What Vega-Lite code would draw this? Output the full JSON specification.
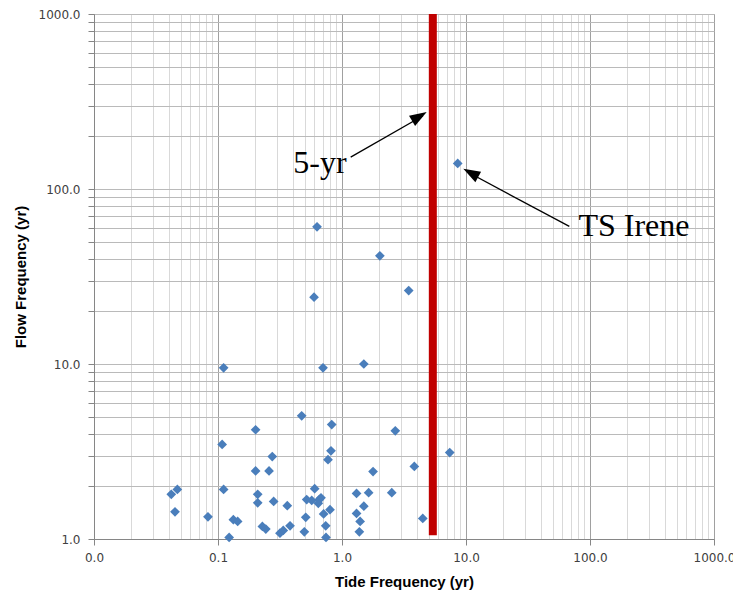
{
  "$schema": "https://vega.github.io/schema/vega-lite/v6.json",
  "width": 620,
  "height": 525,
  "autosize": "none",
  "padding": {"left": 94, "top": 14, "right": 19, "bottom": 55},
  "background": "white",
  "config": {
    "view": {"stroke": "#A6A6A6", "strokeWidth": 1},
    "axis": {"labelFont": "DejaVu Sans", "labelFontSize": 12, "labelColor": "#404040", "titleFont": "Liberation Sans", "titleFontSize": 15, "titleFontWeight": "bold", "titleColor": "#000000", "domainColor": "#868686", "tickColor": "#868686"}
  },
  "datasets": {
    "points": [
      {"x": 0.201, "y": 4.21}, {"x": 0.108, "y": 3.47}, {"x": 0.274, "y": 2.96}, {"x": 0.201, "y": 2.45},
      {"x": 0.258, "y": 2.45}, {"x": 0.047, "y": 1.92}, {"x": 0.042, "y": 1.80}, {"x": 0.111, "y": 1.92},
      {"x": 0.209, "y": 1.80}, {"x": 0.209, "y": 1.61}, {"x": 0.281, "y": 1.64}, {"x": 0.362, "y": 1.55},
      {"x": 0.045, "y": 1.43}, {"x": 0.083, "y": 1.34}, {"x": 0.133, "y": 1.29}, {"x": 0.144, "y": 1.26},
      {"x": 0.228, "y": 1.18}, {"x": 0.243, "y": 1.14}, {"x": 0.316, "y": 1.08}, {"x": 0.336, "y": 1.12},
      {"x": 0.123, "y": 1.02}, {"x": 0.381, "y": 1.19}, {"x": 0.473, "y": 5.06}, {"x": 0.826, "y": 4.51},
      {"x": 2.69, "y": 4.15}, {"x": 0.815, "y": 3.19}, {"x": 0.771, "y": 2.84}, {"x": 7.39, "y": 3.12},
      {"x": 1.78, "y": 2.43}, {"x": 3.83, "y": 2.60}, {"x": 0.602, "y": 1.94}, {"x": 1.31, "y": 1.82},
      {"x": 1.64, "y": 1.84}, {"x": 2.52, "y": 1.84}, {"x": 0.519, "y": 1.68}, {"x": 0.570, "y": 1.66},
      {"x": 0.656, "y": 1.68}, {"x": 0.677, "y": 1.72}, {"x": 0.644, "y": 1.60}, {"x": 0.800, "y": 1.47},
      {"x": 0.711, "y": 1.39}, {"x": 1.50, "y": 1.54}, {"x": 1.31, "y": 1.40}, {"x": 0.510, "y": 1.33},
      {"x": 1.40, "y": 1.26}, {"x": 4.48, "y": 1.31}, {"x": 0.739, "y": 1.19}, {"x": 0.497, "y": 1.10},
      {"x": 1.38, "y": 1.10}, {"x": 0.743, "y": 1.02}, {"x": 0.629, "y": 60.8}, {"x": 2.02, "y": 41.5},
      {"x": 0.595, "y": 24.1}, {"x": 3.45, "y": 26.3}, {"x": 0.111, "y": 9.51}, {"x": 0.703, "y": 9.51},
      {"x": 1.50, "y": 10.0}, {"x": 8.57, "y": 140}
    ],
    "bar": [{"x": 5.4, "y": 1.05, "y2": 1000}],
    "arrows": [
      {"x": 1.175, "y": 152, "x2": 4.5, "y2": 262},
      {"x": 68.1, "y": 61.1, "x2": 10.3, "y2": 125}
    ],
    "heads": [
      {"x": 4.82, "y": 275, "angle": 59.4},
      {"x": 9.51, "y": 130.4, "angle": -61.4}
    ],
    "labels": [
      {"x": 0.665, "y": 140, "label": "5-yr"},
      {"x": 226, "y": 61.1, "label": "TS Irene"}
    ]
  },
  "encoding": {
    "x": {
      "field": "x", "type": "quantitative",
      "scale": {"type": "log", "domain": [0.01, 1000], "nice": false, "zero": false},
      "axis": {
        "title": "Tide Frequency (yr)",
        "values": [0.01,0.02,0.03,0.04,0.05,0.06,0.07,0.08,0.09,0.1,0.2,0.3,0.4,0.5,0.6,0.7,0.8,0.9,1,2,3,4,5,6,7,8,9,10,20,30,40,50,60,70,80,90,100,200,300,400,500,600,700,800,900,1000],
        "labelExpr": "abs(log(datum.value)/LN10 - round(log(datum.value)/LN10)) < 0.001 ? format(datum.value, '.1f') : ''",
        "grid": true,
        "gridColor": {"condition": {"test": "abs(log(datum.value)/LN10 - round(log(datum.value)/LN10)) < 0.001", "value": "#A0A0A0"}, "value": "#D9D9D9"},
        "tickColor": {"condition": {"test": "abs(log(datum.value)/LN10 - round(log(datum.value)/LN10)) < 0.001", "value": "#868686"}, "value": "transparent"},
        "tickSize": 6,
        "labelPadding": 7,
        "labelFlush": false,
        "labelOverlap": false,
        "titlePadding": 11
      }
    },
    "y": {
      "field": "y", "type": "quantitative",
      "scale": {"type": "log", "domain": [1, 1000], "nice": false, "zero": false},
      "axis": {
        "title": "Flow Frequency (yr)",
        "values": [1,2,3,4,5,6,7,8,9,10,20,30,40,50,60,70,80,90,100,200,300,400,500,600,700,800,900,1000],
        "labelExpr": "abs(log(datum.value)/LN10 - round(log(datum.value)/LN10)) < 0.001 ? format(datum.value, '.1f') : ''",
        "grid": true,
        "gridColor": "#BABABA",
        "tickSize": 6,
        "labelPadding": 8,
        "labelFlush": false,
        "labelOverlap": false,
        "titlePadding": 10
      }
    }
  },
  "layer": [
    {
      "data": {"name": "points"},
      "mark": {"type": "point", "shape": "diamond", "filled": true, "size": 95, "color": "#4A7EBB", "opacity": 1, "clip": false}
    },
    {
      "data": {"name": "bar"},
      "mark": {"type": "rule", "color": "#C00000", "strokeWidth": 8},
      "encoding": {"y2": {"field": "y2"}}
    },
    {
      "data": {"name": "arrows"},
      "mark": {"type": "rule", "color": "#000000", "strokeWidth": 1.3},
      "encoding": {"x2": {"field": "x2"}, "y2": {"field": "y2"}}
    },
    {
      "data": {"name": "heads"},
      "mark": {"type": "point", "shape": "M0,0L-0.7,2L0.7,2Z", "filled": true, "size": 289, "color": "#000000", "opacity": 1},
      "encoding": {"angle": {"field": "angle", "type": "quantitative", "scale": null}}
    },
    {
      "data": {"name": "labels"},
      "mark": {"type": "text", "font": "Liberation Serif", "fontSize": 32, "color": "#000000", "align": "center", "baseline": "middle"},
      "encoding": {"text": {"field": "label", "type": "nominal"}}
    }
  ]
}
